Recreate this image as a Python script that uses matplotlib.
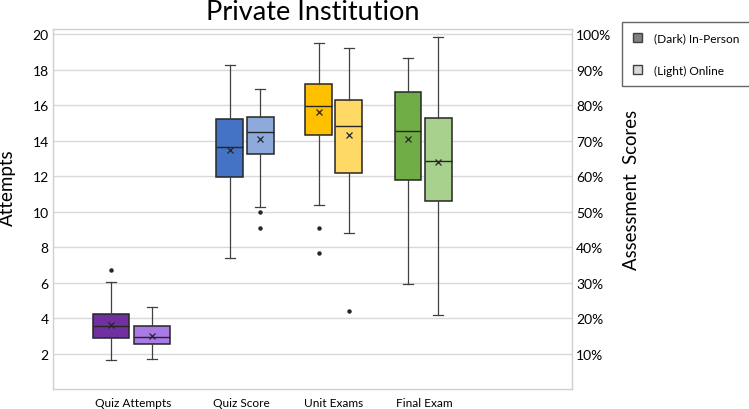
import matplotlib.pyplot as plt
import matplotlib.patches as mpatches

# five-number summaries (left axis units, 0-20)
categories = ['Quiz Attempts', 'Quiz Score', 'Unit Exams', 'Final Exam']

dark_whislo = [1.62, 7.38, 10.40, 5.94]
dark_q1 = [2.90, 11.94, 14.32, 11.81]
dark_med = [3.54, 13.63, 15.97, 14.54]
dark_q3 = [4.21, 15.22, 17.19, 16.72]
dark_whishi = [6.01, 18.26, 19.51, 18.69]
dark_mean = [3.63, 13.48, 15.63, 14.09]
dark_fliers = [[6.69], [], [9.09, 7.68], []]

light_whislo = [1.68, 10.27, 8.81, 4.16]
light_q1 = [2.54, 13.25, 12.20, 10.59]
light_med = [2.94, 14.49, 14.81, 12.88]
light_q3 = [3.54, 15.35, 16.29, 15.28]
light_whishi = [4.64, 16.91, 19.25, 19.87]
light_mean = [2.98, 14.11, 14.32, 12.78]
light_fliers = [[], [9.97, 9.07], [4.38], []]

dark_colors = ['#7030A0', '#4472C4', '#FFC000', '#70AD47']
light_colors = ['#A97BE6', '#8EAADB', '#FFD966', '#A9D18E']

left_ticks = [2, 4, 6, 8, 10, 12, 14, 16, 18, 20]
right_ticks = [10, 20, 30, 40, 50, 60, 70, 80, 90, 100]

# layout (x in 0..100 across the plot area)
centers = [15.1, 37.0, 54.1, 71.3]
label_pos = [15.5, 36.3, 54.1, 71.6]
offsets = [3.95, 2.9, 2.9, 2.9]
widths = [7.0, 5.2, 5.2, 5.2]

plt.rcParams['font.family'] = ['Lato', 'DejaVu Sans']

fig = plt.figure(figsize=(7.49, 4.10), dpi=100)
ax = fig.add_axes([53 / 749, 20 / 410, 519 / 749, 360 / 410])


def stats(i, lo, q1, med, q3, hi, mean, fl):
    return dict(whislo=lo[i], q1=q1[i], med=med[i], q3=q3[i], whishi=hi[i],
                mean=mean[i], fliers=fl[i], label='')


edge = '#262626'
for i in range(len(categories)):
    for side, col, args in [(-1, dark_colors[i], (dark_whislo, dark_q1, dark_med, dark_q3, dark_whishi, dark_mean, dark_fliers)),
                            (1, light_colors[i], (light_whislo, light_q1, light_med, light_q3, light_whishi, light_mean, light_fliers))]:
        st = stats(i, *args)
        ax.bxp([st], positions=[centers[i] + side * offsets[i]], widths=widths[i],
               patch_artist=True, showmeans=True, manage_ticks=False,
               boxprops=dict(facecolor=col, edgecolor=edge, linewidth=1.1),
               medianprops=dict(color=edge, linewidth=1.0),
               whiskerprops=dict(color='#404040', linewidth=0.9),
               capprops=dict(color='#404040', linewidth=0.9),
               capwidths=2.0,
               meanprops=dict(marker='x', markeredgecolor='#262626', markersize=5, markeredgewidth=0.9),
               flierprops=dict(marker='o', markerfacecolor='#262626', markeredgecolor='#262626', markersize=2.2))

ax.set_xlim(0, 100)
ax.set_ylim(0, 20.3)
ax.set_yticks(left_ticks)
ax.set_yticklabels([str(t) for t in left_ticks], fontsize=10)
ax.set_xticks(label_pos)
ax.set_xticklabels(categories, fontsize=8.6)
ax.tick_params(axis='both', length=0, pad=3)
ax.tick_params(axis='x', pad=6)
ax.yaxis.grid(True, color='#D9D9D9', linewidth=1.0)
ax.set_axisbelow(True)
for s in ax.spines.values():
    s.set_color('#D0D0D0')
    s.set_linewidth(1.0)

ax.set_ylabel('Attempts', fontsize=13.5)
ax.yaxis.set_label_coords(-0.071, 0.561)

ax2 = ax.twinx()
ax2.set_ylim(0, 20.3 * 5)
ax2.set_yticks(right_ticks)
ax2.set_yticklabels([f'{t}%' for t in right_ticks], fontsize=10)
ax2.tick_params(axis='y', length=0, pad=3)
for s in ax2.spines.values():
    s.set_visible(False)
ax2.set_ylabel('Assessment  Scores', fontsize=13.4)
ax2.yaxis.set_label_coords(1.098, 0.556)

ax.set_title('Private Institution', fontsize=19.5, pad=7)

handles = [mpatches.Patch(facecolor='#808080', edgecolor='#404040', label='(Dark) In-Person'),
           mpatches.Patch(facecolor='#D9D9D9', edgecolor='#404040', label='(Light) Online')]
fig.legend(handles=handles, loc='upper left', bbox_to_anchor=(622 / 749, 1 - 23 / 410),
           fontsize=8.6, frameon=True, fancybox=False, edgecolor='#404040',
           handlelength=0.75, handleheight=0.75, labelspacing=1.75, borderpad=0.9,
           handletextpad=1.0, borderaxespad=0)

fig.savefig('out.png', dpi=100)
